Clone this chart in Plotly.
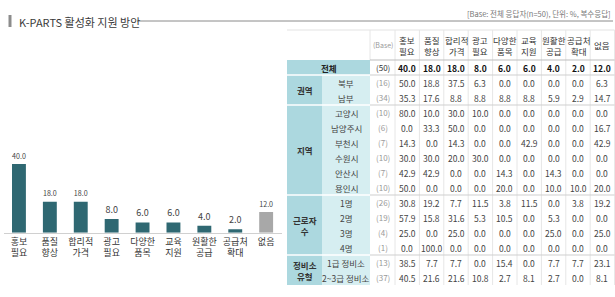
import plotly.graph_objects as go

# ---------------- data ----------------
categories = ["홍보<br>필요", "품질<br>향상", "합리적<br>가격", "광고<br>필요", "다양한<br>품목",
              "교육<br>지원", "원활한<br>공급", "공급처<br>확대", "없음"]
overall = [40.0, 18.0, 18.0, 8.0, 6.0, 6.0, 4.0, 2.0, 12.0]

title_text = "K-PARTS 활성화 지원 방안"
base_note = "[Base: 전체 응답자(n=50), 단위: %, 복수응답]"

total_label = "전체"
total_base = 50
group_names = ["권역", "지역", "근로자<br>수", "정비소<br>유형"]
group_rows = [
    ["북부", "남부"],
    ["고양시", "남양주시", "부천시", "수원시", "안산시", "용인시"],
    ["1명", "2명", "3명", "4명"],
    ["1급 정비소", "2~3급 정비소"],
]
row_bases = [16, 34, 10, 6, 7, 10, 7, 10, 26, 19, 4, 1, 13, 37]
row_values = [
    [50.0, 18.8, 37.5, 6.3, 0.0, 0.0, 0.0, 0.0, 6.3],
    [35.3, 17.6, 8.8, 8.8, 8.8, 8.8, 5.9, 2.9, 14.7],
    [80.0, 10.0, 30.0, 10.0, 0.0, 0.0, 0.0, 0.0, 0.0],
    [0.0, 33.3, 50.0, 0.0, 0.0, 0.0, 0.0, 0.0, 16.7],
    [14.3, 0.0, 14.3, 0.0, 0.0, 42.9, 0.0, 0.0, 42.9],
    [30.0, 30.0, 20.0, 30.0, 0.0, 0.0, 0.0, 0.0, 0.0],
    [42.9, 42.9, 0.0, 0.0, 14.3, 0.0, 14.3, 0.0, 0.0],
    [50.0, 0.0, 0.0, 0.0, 20.0, 0.0, 10.0, 10.0, 20.0],
    [30.8, 19.2, 7.7, 11.5, 3.8, 11.5, 0.0, 3.8, 19.2],
    [57.9, 15.8, 31.6, 5.3, 10.5, 0.0, 5.3, 0.0, 0.0],
    [25.0, 0.0, 25.0, 0.0, 0.0, 0.0, 25.0, 0.0, 25.0],
    [0.0, 100.0, 0.0, 0.0, 0.0, 0.0, 0.0, 0.0, 0.0],
    [38.5, 7.7, 7.7, 0.0, 15.4, 0.0, 7.7, 7.7, 23.1],
    [40.5, 21.6, 21.6, 10.8, 2.7, 8.1, 2.7, 0.0, 8.1],
]

# ---------------- layout constants ----------------
W, H = 615, 297
FONT = "Noto Sans CJK KR"
BAR_DARK = "#2f6872"
BAR_GRAY = "#a8a8a8"
GRP_FILL = "#acd8df"
SUB_FILL = "#d6eef1"

def px(x):
    return x / W

def py(y):
    return 1 - y / H

fig = go.Figure()

# ---------------- bar chart ----------------
n = len(categories)
bar_colors = [BAR_DARK] * (n - 1) + [BAR_GRAY]
fig.add_trace(go.Bar(
    x=list(range(n)), y=overall,
    marker=dict(color=bar_colors, line=dict(width=0)),
    texttemplate="%{y:.1f}", textposition="outside",
    textfont=dict(size=9, color="#444", family=FONT),
    cliponaxis=False, width=0.45, hoverinfo="skip",
    xaxis="x", yaxis="y",
))

# ---------------- table (pixel axes) ----------------
X_GRP0, X_SUB0, X_BASE0, X_DATA0 = 287, 322, 370, 395
COL_W = 24.4
Y_HEAD0, Y_TOT0, ROW_H = 30, 60, 15
Y_ROWS0 = Y_TOT0 + ROW_H
n_rows = len(row_values)
Y_END = Y_ROWS0 + n_rows * ROW_H
X_END = X_DATA0 + COL_W * len(overall)

shapes = []
annotations = []

def rect(x0, y0, x1, y1, color):
    shapes.append(dict(type="rect", xref="x2", yref="y2", x0=x0, y0=y0, x1=x1, y1=y1,
                       fillcolor=color, line=dict(width=0), layer="below"))

def line(x0, y0, x1, y1, color, width=1):
    shapes.append(dict(type="line", xref="x2", yref="y2", x0=x0, y0=y0, x1=x1, y1=y1,
                       line=dict(color=color, width=width)))

def text(x, y, s, size=8.5, color="#444", bold=False, xanchor="center"):
    if bold:
        s = "<b>" + s + "</b>"
    annotations.append(dict(xref="x2", yref="y2", x=x, y=y, text=s, showarrow=False,
                            xanchor=xanchor, yanchor="middle",
                            font=dict(size=size, color=color, family=FONT)))

# title
shapes.append(dict(type="rect", xref="paper", yref="paper", x0=px(8.5), x1=px(11.5),
                   y0=py(27), y1=py(15), fillcolor="#8c8c8c", line=dict(width=0)))
annotations.append(dict(xref="paper", yref="paper", x=px(17), y=py(21.5), text=title_text,
                        showarrow=False, xanchor="left", yanchor="middle",
                        font=dict(size=11, color="#3a3a3a", family=FONT)))
shapes.append(dict(type="line", xref="paper", yref="paper", x0=px(137), x1=px(613),
                   y0=py(21), y1=py(21), line=dict(color="#8a8a8a", width=1)))
annotations.append(dict(xref="paper", yref="paper", x=px(613), y=py(13.5), text=base_note,
                        showarrow=False, xanchor="right", yanchor="middle",
                        font=dict(size=7.5, color="#777", family=FONT)))

# label backgrounds
rect(X_GRP0, Y_TOT0, X_BASE0, Y_ROWS0, GRP_FILL)
text((X_GRP0 + X_BASE0) / 2, Y_TOT0 + ROW_H / 2, total_label, 8.5, "#222", True)
text((X_BASE0 + X_DATA0) / 2, Y_TOT0 + ROW_H / 2, "(%d)" % total_base, 8, "#333")
for j, v in enumerate(overall):
    text(X_DATA0 + COL_W * (j + 0.5), Y_TOT0 + ROW_H / 2, "%.1f" % v, 8.5, "#111", True)

r = 0
for g, subs in zip(group_names, group_rows):
    y0 = Y_ROWS0 + r * ROW_H
    y1 = y0 + len(subs) * ROW_H
    rect(X_GRP0, y0, X_SUB0, y1, GRP_FILL)
    rect(X_SUB0, y0, X_BASE0, y1, SUB_FILL)
    text((X_GRP0 + X_SUB0) / 2, (y0 + y1) / 2, g, 8.5, "#333", True)
    for k, s in enumerate(subs):
        yc = y0 + (k + 0.5) * ROW_H
        text((X_SUB0 + X_BASE0) / 2, yc, s, 8.5, "#444")
        text((X_BASE0 + X_DATA0) / 2, yc, "(%d)" % row_bases[r + k], 8, "#999")
        for j, v in enumerate(row_values[r + k]):
            text(X_DATA0 + COL_W * (j + 0.5), yc, "%.1f" % v, 8.5, "#444")
    r += len(subs)

# header
text((X_BASE0 + X_DATA0) / 2, (Y_HEAD0 + Y_TOT0) / 2, "(Base)", 7, "#999")
for j, c in enumerate(categories):
    text(X_DATA0 + COL_W * (j + 0.5), (Y_HEAD0 + Y_TOT0) / 2, c, 8.5, "#333")

# grid lines
line(X_GRP0, Y_HEAD0, X_END, Y_HEAD0, "#e3e3e3")
for j in range(len(overall) + 1):
    xx = X_DATA0 + COL_W * j
    line(xx, Y_HEAD0, xx, Y_END, "#e6e6e6")
line(X_BASE0, Y_HEAD0, X_BASE0, Y_TOT0, "#e6e6e6")
line(X_BASE0, Y_TOT0, X_END, Y_TOT0, "#bdbdbd")
sep = [Y_ROWS0]
r = 0
for subs in group_rows:
    r += len(subs)
    sep.append(Y_ROWS0 + r * ROW_H)
for yy in sep[:-1]:
    line(X_BASE0, yy, X_END, yy, "#cfcfcf")
    line(X_GRP0, yy, X_BASE0, yy, "#ffffff", 1.5)

fig.update_layout(
    width=W, height=H,
    margin=dict(l=0, r=0, t=0, b=0),
    paper_bgcolor="white", plot_bgcolor="rgba(0,0,0,0)",
    showlegend=False,
    font=dict(family=FONT),
    xaxis=dict(domain=[px(3.5), px(281.6)], range=[-0.5, n - 0.5],
               tickmode="array", tickvals=list(range(n)), ticktext=categories,
               tickfont=dict(size=9, color="#333", family=FONT), ticks="", ticklen=0,
               showline=True, linecolor="#d0d0d0", linewidth=1,
               showgrid=False, zeroline=False, fixedrange=True),
    yaxis=dict(domain=[py(232.7), py(146.7)], range=[0, 50], visible=False,
               showgrid=False, zeroline=False, fixedrange=True),
    xaxis2=dict(domain=[0, 1], range=[0, W], visible=False, anchor="y2", fixedrange=True),
    yaxis2=dict(domain=[0, 1], range=[H, 0], visible=False, anchor="x2", fixedrange=True),
    shapes=shapes,
    annotations=annotations,
)

# dummy invisible trace to activate pixel axes
fig.add_trace(go.Scatter(x=[0, W], y=[0, H], mode="markers", marker=dict(opacity=0),
                         xaxis="x2", yaxis="y2", hoverinfo="skip"))

fig.write_html("out.html")
